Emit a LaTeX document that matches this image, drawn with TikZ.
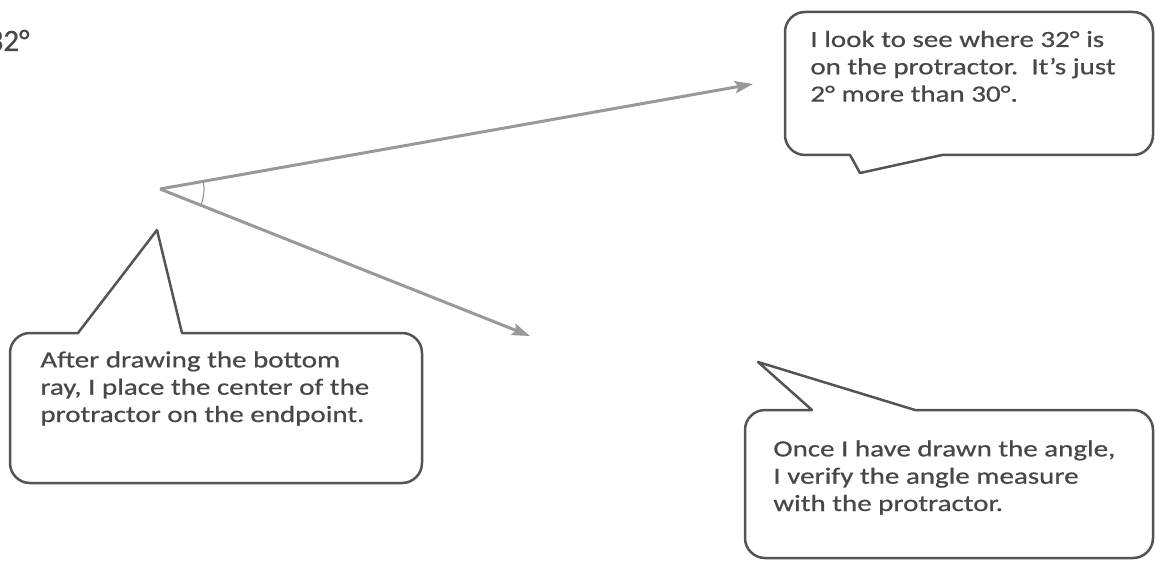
\documentclass[tikz,border=0pt]{standalone}
\usepackage{fontspec}
\setmainfont{Carlito}[FakeStretch=1.25,FakeBold=0.6]
\newfontfamily\plainfont{Carlito}[FakeBold=0.6]
\usetikzlibrary{arrows.meta}
\newlength{\du}
\setlength{\du}{0.5pt}
\begin{document}
\begin{tikzpicture}[
  bubble/.style={draw=bubblecolor, line width=2.5\du, fill=white, line join=round},
  bubbletext/.style={anchor=base west, align=left, inner sep=0pt, text=textcolor,
    font=\fontsize{11.6}{13.65}\selectfont},
  ray/.style={draw=raycolor, line width=3\du, -{Stealth[length=9pt,width=6pt,inset=1.5pt]}}]
\pgftransformxscale{1.000000}
\pgftransformyscale{-1.000000}
\definecolor{bubblecolor}{rgb}{0.330000, 0.330000, 0.330000}
\definecolor{textcolor}{rgb}{0.280000, 0.280000, 0.280000}
\definecolor{raycolor}{rgb}{0.600000, 0.600000, 0.600000}
\useasboundingbox (0.000000\du,0.000000\du) rectangle (1155.000000\du,561.000000\du);
% angle
\coordinate (vertex) at (160.000000\du,189.000000\du);
\coordinate (topend) at (753.000000\du,84.000000\du);
\coordinate (botend) at (530.000000\du,336.000000\du);
\draw[ray] (vertex)--(topend);
\draw[ray] (vertex)--(botend);
\draw[raycolor, line width=1.2\du] (vertex) ++(-10.000000:44.000000\du) arc (-10.000000:21.700000:44.000000\du);
\node[anchor=base east, inner sep=0pt, text=textcolor, font=\plainfont\fontsize{15.5}{18}\selectfont] (measure) at (30.000000\du,51.000000\du){32°};
% top right bubble
\coordinate (tipA) at (860.000000\du,173.000000\du);
\draw[bubble] (tipA)--(942.000000\du,155.000000\du)[rounded corners=20\du]--(1153.000000\du,155.000000\du)--(1153.000000\du,12.000000\du)--(785.000000\du,12.000000\du)--(785.000000\du,155.000000\du)[sharp corners]--(850.000000\du,155.000000\du)--cycle;
\node[bubbletext] (lookA) at (810.000000\du,101.600000\du){I look to see where 32° is\\on the protractor.\ \ It’s just\\2° more than 30°.};
% left bubble
\coordinate (tipB) at (157.000000\du,230.000000\du);
\draw[bubble] (tipB)--(182.000000\du,333.000000\du)[rounded corners=20\du]--(422.000000\du,333.000000\du)--(422.000000\du,483.000000\du)--(10.000000\du,483.000000\du)--(10.000000\du,333.000000\du)[sharp corners]--(78.000000\du,333.000000\du)--cycle;
\node[bubbletext] (placeB) at (40.000000\du,422.000000\du){After drawing the bottom\\ray, I place the center of the\\protractor on the endpoint.};
% bottom right bubble
\coordinate (tipC) at (758.000000\du,362.000000\du);
\draw[bubble] (tipC)--(915.000000\du,410.000000\du)[rounded corners=20\du]--(1153.000000\du,410.000000\du)--(1153.000000\du,558.000000\du)--(745.000000\du,558.000000\du)--(745.000000\du,410.000000\du)[sharp corners]--(812.000000\du,410.000000\du)--cycle;
\node[bubbletext] (checkC) at (773.000000\du,511.000000\du){Once I have drawn the angle,\\I verify the angle measure\\with the protractor.};
\end{tikzpicture}
\end{document}
